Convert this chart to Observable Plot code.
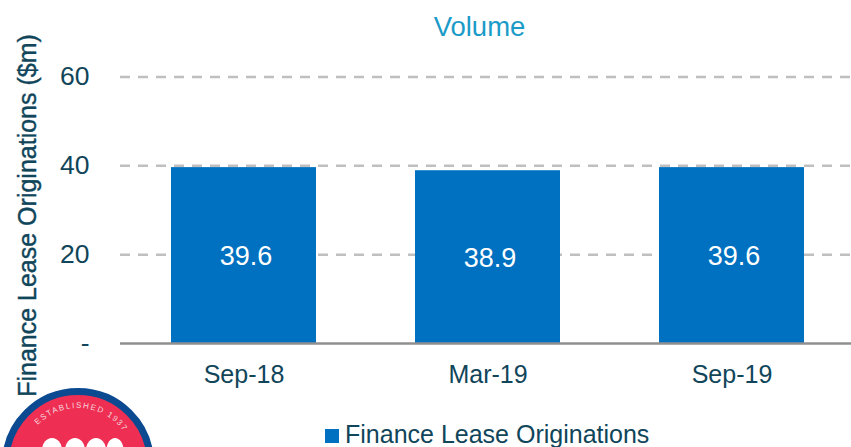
<!DOCTYPE html>
<html><head><meta charset="utf-8">
<script src="https://cdn.jsdelivr.net/npm/d3@7"></script>
<script src="https://cdn.jsdelivr.net/npm/@observablehq/plot@0.6"></script>
<style>
html,body{margin:0;padding:0;background:#fff}
#wrap{position:relative;width:851px;height:447px;overflow:hidden;font-family:"Liberation Sans",sans-serif}
#title{position:absolute;top:11px;left:0;width:959px;text-align:center;font-size:27.5px;color:#1b9bc8;line-height:32px}
#legend{position:absolute;left:325px;top:421px;font-size:25px;line-height:26px;color:#10455a;white-space:nowrap}
#legend i{display:inline-block;width:14px;height:14px;background:#0070c0;margin-right:6px}
#logo{position:absolute;left:0;top:380px}
</style></head><body>
<div id="wrap"><div id="title">Volume</div><div id="chart"></div>
<svg id="logo" width="160" height="67" viewBox="0 380 160 67">
<circle cx="78" cy="464" r="72.5" fill="#ee2f53" stroke="#0b4a90" stroke-width="7"/>
<defs><path id="arc" d="M37.7 425.1 A56 56 0 0 1 126 435"/></defs>
<text font-size="8" fill="#f7d5dc" letter-spacing="1.5" font-family="Liberation Sans"><textPath href="#arc">ESTABLISHED 1937</textPath></text>
<ellipse cx="52" cy="450" rx="10" ry="12" fill="#fff"/><ellipse cx="75" cy="450" rx="10" ry="12" fill="#fff"/><ellipse cx="96" cy="450" rx="10" ry="12" fill="#fff"/><ellipse cx="115" cy="450" rx="8.5" ry="12" fill="#fff"/>
</svg>
<div id="legend"><i></i>Finance Lease Originations</div></div>
<script>
const periods = ["Sep-18","Mar-19","Sep-19"];
const originations = [39.6,38.9,39.6];
const yTicks = [0,20,40,60];
const table = periods.map((p,i)=>({period:p,value:originations[i]}));
const ink = "#10455a";
const plot = Plot.plot({
  width:851,height:447,marginTop:0,marginBottom:104,marginLeft:120,marginRight:0,
  style:{fontFamily:"Liberation Sans, sans-serif",fontSize:"25px",color:ink,background:"transparent"},
  x:{domain:periods,range:[120.25,853.75],paddingInner:0.407,paddingOuter:0.2035,align:0.5,label:null,tickSize:0,tickPadding:22},
  y:{domain:[0,60],range:[343,76.5],label:null},
  marks:[
    Plot.ruleY(yTicks.filter(d=>d>0),{stroke:"#bfbfbf",strokeWidth:2.5,strokeDasharray:"10 8"}),
    Plot.axisY(yTicks,{tickSize:0,tickPadding:31,tickFormat:d=>d===0?"-":d,label:null,fill:ink,fontSize:26.5}),
    Plot.text(["Finance Lease Originations ($m)"],{frameAnchor:"left",textAnchor:"middle",dx:-93,dy:43.5,rotate:-90,fontSize:25,fill:ink,stroke:ink,strokeWidth:0.4}),
    Plot.barY(table,{x:"period",y:"value",fill:"#0070c0"}),
    Plot.ruleY([0],{stroke:"#8f8f8f",strokeWidth:2.5}),
    Plot.text(table,{x:"period",y:d=>d.value/2,text:d=>d.value.toFixed(1),dx:2,dy:1,fill:"#fff",fontSize:27})
  ]
});
document.getElementById("chart").appendChild(plot);
</script></body></html>
